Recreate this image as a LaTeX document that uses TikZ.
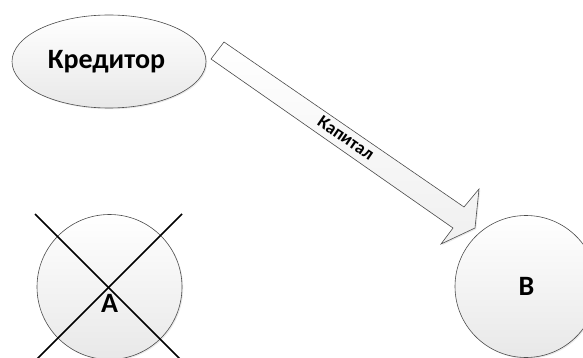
\documentclass[tikz,border=0pt]{standalone}
\usepackage{fontspec}
\setmainfont{Carlito}
\usetikzlibrary{shapes.geometric,shadows}
\begin{document}
\begin{tikzpicture}[x=1pt,y=-1pt,
  shapebox/.style={draw=black!70, line width=0.6pt, top color=white, bottom color=black!9,
    drop shadow={opacity=0.18, shadow xshift=1.2pt, shadow yshift=-1.2pt}},
  lbl/.style={font=\fontsize{28}{28}\selectfont\bfseries, inner sep=0pt},
  crossline/.style={draw=black, line width=1.6pt}]
\useasboundingbox (0,0) rectangle (583,358);
\clip (0,0) rectangle (583,358);
% nodes
\node[shapebox, ellipse, minimum width=194pt, minimum height=93pt, inner sep=0pt] (cred) at (109,61.5) {};
\node[lbl, anchor=base] (credt) at (106.5,68.5) {Кредитор};
\node[shapebox, circle, minimum size=145pt, inner sep=0pt] (A) at (109.5,287) {};
\node[shapebox, circle, minimum size=142pt, inner sep=0pt] (B) at (526,286.5) {};
\node[lbl, anchor=base] (At) at (109.5,312.5) {A};
\node[lbl, anchor=base] (Bt) at (526.5,295.5) {B};
% block arrow
\coordinate (t1) at (224,42);
\coordinate (s1) at (464,207);
\coordinate (h1) at (479,189);
\coordinate (tip) at (475,228);
\coordinate (h2) at (441,244);
\coordinate (s2) at (453,228);
\coordinate (t2) at (211,59);
\path[shapebox, top color=white, bottom color=black!6] (t1) -- (s1) -- (h1) -- (tip) -- (h2) -- (s2) -- (t2) -- cycle;
\node[font=\fontsize{18}{18}\selectfont\bfseries, rotate=-34.5, inner sep=0pt] (kap) at (346,138) {Капитал};
% cross over A
\coordinate (c1) at (35,214);
\coordinate (c2) at (182,361);
\coordinate (c3) at (182,214);
\coordinate (c4) at (35,361);
\draw[crossline] (c1) -- (c2);
\draw[crossline] (c3) -- (c4);
\end{tikzpicture}
\end{document}
